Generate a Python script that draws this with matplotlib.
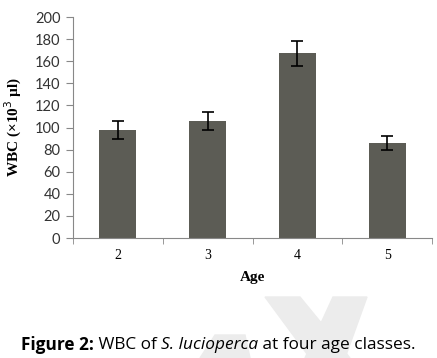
import matplotlib
matplotlib.use('Agg')
import matplotlib.pyplot as plt
from matplotlib.patches import Polygon

# 데이터
ages = ['2', '3', '4', '5']
wbc = [98, 106, 167, 86]
wbc_err = [8, 8, 11, 6.5]
y_ticks = list(range(0, 201, 20))

W, H = 437, 358
fig = plt.figure(figsize=(W / 100, H / 100), dpi=100)
ax = fig.add_axes([0.167, 0.335, 0.822, 0.6175])

# 워터마크 (연한 회색, 픽셀 좌표)
def px(pts):
    return [(a / W, 1 - b / H) for a, b in pts]

for pts in [[(265, 297), (300, 297), (350, 358), (310, 358)],
            [(333, 297), (367, 297), (345, 358), (305, 358)],
            [(200, 358), (215, 335), (245, 335), (250, 358)]]:
    fig.patches.append(Polygon(px(pts), closed=True, transform=fig.transFigure,
                               color='#ececec', zorder=0))

x = list(range(len(ages)))
ax.bar(x, wbc, width=0.41, color='#5c5c55', zorder=2)
ax.errorbar(x, wbc, yerr=wbc_err, fmt='none', ecolor='black',
            elinewidth=1.2, capsize=4, capthick=1.2, zorder=3)

ax.set_xlim(-0.5, 3.5)
ax.set_ylim(0, 200)
ax.set_yticks(y_ticks)
ax.set_yticklabels([str(t) for t in y_ticks], fontfamily='Lato', fontsize=10.5, color='#333333')

ax.set_xticks(x)
ax.set_xticklabels(ages, fontfamily='Liberation Serif', fontsize=10)
ax.set_xticks([-0.5, 0.5, 1.5, 2.5, 3.5], minor=True)
ax.tick_params(axis='x', which='major', length=0, pad=8)
ax.tick_params(axis='x', which='minor', length=4, color='#888888', direction='out')
ax.tick_params(axis='y', length=5, color='#888888', pad=4)

for s in ['top', 'right']:
    ax.spines[s].set_visible(False)
ax.spines['left'].set_color('#888888')
ax.spines['bottom'].set_color('#888888')

ax.set_xlabel('Age', fontfamily='Liberation Serif', fontweight='bold', fontsize=11, labelpad=6)
ax.set_ylabel('WBC (×10$^3$ µl)', fontfamily='Liberation Serif', fontweight='bold', fontsize=11, labelpad=8)

# 캡션
fig.canvas.draw()
r = fig.canvas.get_renderer()
parts = [('Figure 2:', 'bold', 'normal'), (' WBC of ', 'normal', 'normal'),
         ('S. lucioperca', 'normal', 'italic'), (' at four age classes.', 'normal', 'normal')]
xpos = 21
for txt, w, st in parts:
    t = fig.text(xpos / W, 1 - 345 / H, txt, fontfamily='Open Sans', fontweight=w,
                 fontstyle=st, fontsize=12.4, va='center', ha='left')
    xpos += t.get_window_extent(r).width

fig.savefig('out.png', dpi=100)
